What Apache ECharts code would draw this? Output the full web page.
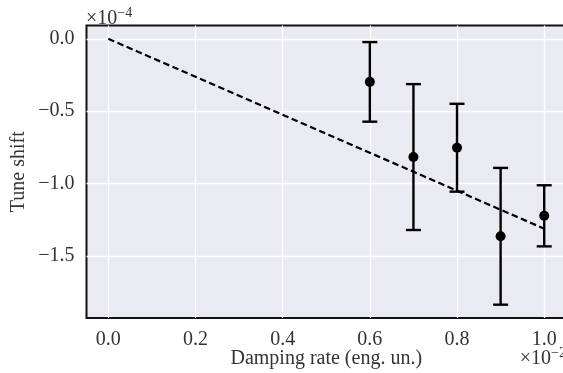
<!DOCTYPE html>
<html>
<head>
<meta charset="utf-8">
<script src="https://cdn.jsdelivr.net/npm/echarts@6/dist/echarts.min.js"></script>
<style>
html,body{margin:0;padding:0;background:#fff;}
#chart{width:563px;height:373px;}
</style>
</head>
<body>
<div id="chart"></div>
<script>
// Data (x in units of 1e-2, y in units of 1e-4)
var dampingRate = [0.6, 0.7, 0.8, 0.9, 1.0];
var tuneShift = [-0.2975, -0.817, -0.7525, -1.3645, -1.223];
var tuneShiftErr = [0.275, 0.504, 0.3035, 0.4725, 0.211];
var fitX = [0.0, 1.0];
var fitY = [0.0, -1.312];
var xTicks = [0.0, 0.2, 0.4, 0.6, 0.8, 1.0];
var yTicks = [0.0, -0.5, -1.0, -1.5];

var FONT = '"Liberation Serif", "Times New Roman", serif';

function fmt(v) {
  var s = Math.abs(v).toFixed(1);
  return (v < -1e-9 ? '\u2212' : '') + s;
}

var errData = dampingRate.map(function (x, i) {
  return [x, tuneShift[i] - tuneShiftErr[i], tuneShift[i] + tuneShiftErr[i]];
});
var pts = dampingRate.map(function (x, i) { return [x, tuneShift[i]]; });
var fit = fitX.map(function (x, i) { return [x, fitY[i]]; });

var chart = echarts.init(document.getElementById('chart'), null, {renderer: 'canvas'});
chart.setOption({
  animation: false,
  backgroundColor: '#ffffff',
  grid: {
    left: 86.5, top: 25.5, width: 479.5, height: 292.5,
    outerBoundsMode: 'none', containLabel: false,
    show: true, backgroundColor: '#EAEAF2', borderColor: '#111', borderWidth: 2
  },
  xAxis: {
    type: 'value', min: -0.05, max: 1.05,
    axisLine: {show: false},
    axisTick: {show: false, customValues: xTicks},
    axisLabel: {customValues: xTicks, formatter: fmt, fontFamily: FONT, fontSize: 20, color: '#333', margin: 12},
    splitLine: {show: true, lineStyle: {color: '#ffffff', width: 1.3}},
    name: 'Damping rate (eng. un.)', nameLocation: 'middle', nameGap: 31, nameMoveOverlap: false,
    nameTextStyle: {fontFamily: FONT, fontSize: 20, color: '#333'}
  },
  yAxis: {
    type: 'value', min: -1.929, max: 0.092,
    axisLine: {show: false},
    axisTick: {show: false, customValues: yTicks},
    axisLabel: {customValues: yTicks, formatter: fmt, fontFamily: FONT, fontSize: 20, color: '#333', margin: 12},
    splitLine: {show: true, lineStyle: {color: '#ffffff', width: 1.3}},
    name: 'Tune shift', nameLocation: 'middle', nameGap: 58, nameRotate: 90, nameMoveOverlap: false,
    nameTextStyle: {fontFamily: FONT, fontSize: 20, color: '#333'}
  },
  graphic: [
    {
      type: 'text', left: 86, top: 6,
      style: {
        text: '{a|\u00d710}{b|\u22124}',
        rich: {
          a: {fontFamily: FONT, fontSize: 20, lineHeight: 20, verticalAlign: 'bottom', fill: '#333'},
          b: {fontFamily: FONT, fontSize: 14, lineHeight: 14, verticalAlign: 'bottom', padding: [0, 0, 9, 0], fill: '#333'}
        }
      }
    },
    {
      type: 'text', right: -3, top: 346,
      style: {
        text: '{a|\u00d710}{b|\u22122}',
        rich: {
          a: {fontFamily: FONT, fontSize: 20, lineHeight: 20, verticalAlign: 'bottom', fill: '#333'},
          b: {fontFamily: FONT, fontSize: 14, lineHeight: 14, verticalAlign: 'bottom', padding: [0, 0, 9, 0], fill: '#333'}
        }
      }
    }
  ],
  series: [
    {
      type: 'line', data: fit, showSymbol: false, symbol: 'none',
      lineStyle: {color: '#000', width: 2.2, type: [6.5, 3.5]}, z: 2
    },
    {
      type: 'custom', data: errData, z: 3,
      renderItem: function (params, api) {
        var x = api.value(0);
        var lo = api.coord([x, api.value(1)]);
        var hi = api.coord([x, api.value(2)]);
        var hw = 7.5;
        var st = {stroke: '#000', lineWidth: 2.4};
        return {
          type: 'group',
          children: [
            {type: 'line', shape: {x1: lo[0], y1: lo[1], x2: hi[0], y2: hi[1]}, style: st},
            {type: 'line', shape: {x1: lo[0] - hw, y1: lo[1], x2: lo[0] + hw, y2: lo[1]}, style: st},
            {type: 'line', shape: {x1: hi[0] - hw, y1: hi[1], x2: hi[0] + hw, y2: hi[1]}, style: st}
          ]
        };
      }
    },
    {
      type: 'scatter', data: pts, symbol: 'circle', symbolSize: 10,
      itemStyle: {color: '#000', opacity: 1}, z: 4
    }
  ]
});
</script>
</body>
</html>
